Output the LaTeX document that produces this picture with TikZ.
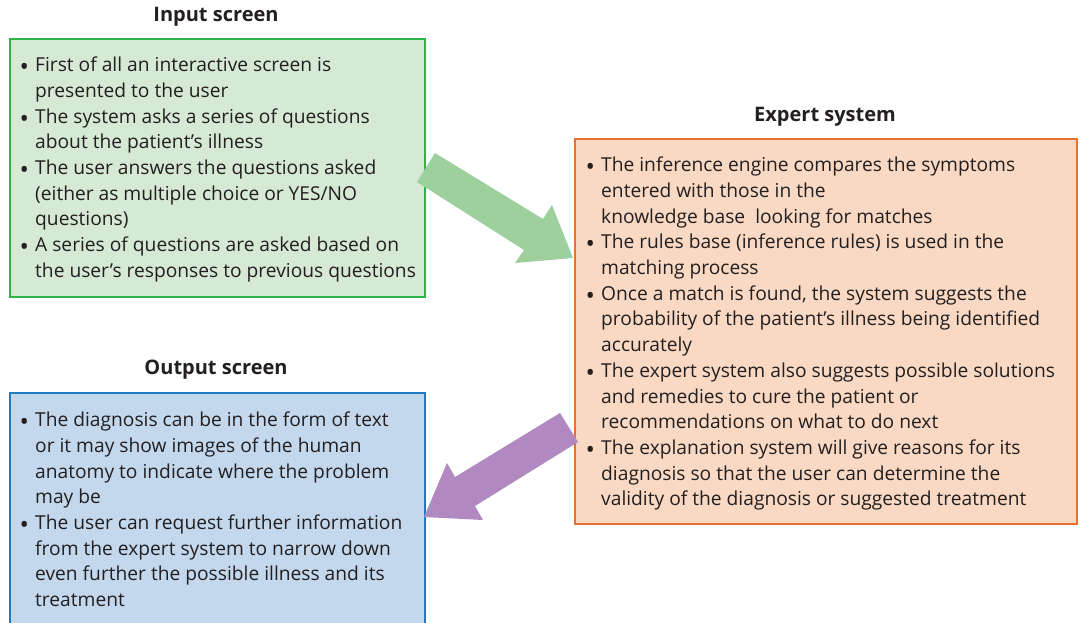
\documentclass[tikz,border=0pt]{standalone}
\usepackage{fontspec}
\setmainfont{Open Sans}
\definecolor{txt}{HTML}{231F20}
\definecolor{gborder}{HTML}{2DB34A}
\definecolor{gfill}{HTML}{D5E9D4}
\definecolor{garrow}{HTML}{9DD09C}
\definecolor{oborder}{HTML}{E9712F}
\definecolor{ofill}{HTML}{F9D9C3}
\definecolor{bborder}{HTML}{1F7BC0}
\definecolor{bfill}{HTML}{C3D8ED}
\definecolor{parrow}{HTML}{B189C0}
\newcommand{\bul}[1]{\par\hangindent=15pt\hangafter=1\noindent\makebox[15pt][l]{\hspace*{-0.5pt}\raisebox{-4pt}{\fontsize{25}{0}\selectfont\textbullet}}#1}
\newenvironment{blist}[1]{\begin{minipage}[t]{#1}\fontsize{19.2}{25.7}\selectfont\rightskip=0pt plus 1fil\parindent=0pt\parskip=0pt}{\end{minipage}}
\tikzset{
  box/.style={draw, line width=2.4pt, anchor=north west, inner sep=0pt},
  ttl/.style={font=\fontsize{20}{24}\selectfont\bfseries, text=txt, anchor=base, inner sep=0pt},
  body/.style={anchor=base west, inner sep=0pt, text=txt},
}
\begin{document}
\begin{tikzpicture}[x=1pt,y=-1pt]
\useasboundingbox (0,0) rectangle (1083,623);
% boxes
\node[box, draw=gborder, fill=gfill, minimum width=415pt, minimum height=258pt] (inbox) at (9,38) {};
\node[box, draw=oborder, fill=ofill, minimum width=502pt, minimum height=385pt] (exbox) at (574,138) {};
\node[box, draw=bborder, fill=bfill, minimum width=415pt, minimum height=250pt] (outbox) at (9,392) {};
% titles
\node[ttl] (intitle) at (216,21.7) {Input screen};
\node[ttl] (extitle) at (825,121.7) {Expert system};
\node[ttl] (outtitle) at (216,374) {Output screen};
% texts
\node[body] (intext) at (20,71.7) {\begin{blist}{400pt}
\bul{First of all an interactive screen is\\presented to the user}
\bul{The system asks a series of questions\\about the patient’s illness}
\bul{The user answers the questions asked\\(either as multiple choice or YES/NO\\questions)}
\bul{A series of questions are asked based on\\the user’s responses to previous questions}
\end{blist}};
\node[body] (extext) at (586,171.7) {\begin{blist}{485pt}
\bul{The inference engine compares the symptoms\\entered with those in the\\knowledge base\ \ looking for matches}
\bul{The rules base (inference rules) is used in the\\matching process}
\bul{Once a match is found, the system suggests the\\probability of the patient’s illness being identified\\accurately}
\bul{The expert system also suggests possible solutions\\and remedies to cure the patient or\\recommendations on what to do next}
\bul{The explanation system will give reasons for its\\diagnosis so that the user can determine the\\validity of the diagnosis or suggested treatment}
\end{blist}};
\node[body] (outtext) at (20,426.7) {\begin{blist}{400pt}
\bul{The diagnosis can be in the form of text\\or it may show images of the human\\anatomy to indicate where the problem\\may be}
\bul{The user can request further information\\from the expert system to narrow down\\even further the possible illness and its\\treatment}
\end{blist}};
% block arrows
\fill[garrow] (435,153) -- (543,219) -- (552,205) -- (573,258) -- (515,263) -- (524,250) -- (417,182) -- cycle;
\fill[parrow] (560,413) -- (455,477) -- (447,463) -- (424,517) -- (483,520) -- (475,506) -- (578,442) -- cycle;
\end{tikzpicture}
\end{document}
